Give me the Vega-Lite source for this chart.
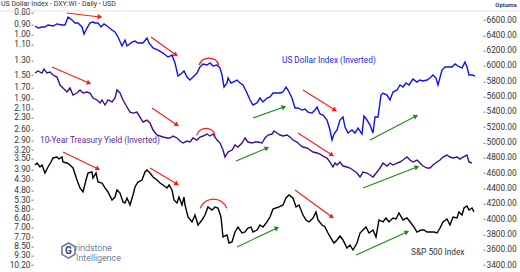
{
"$schema":"https://vega.github.io/schema/vega-lite/v6.json",
"width":450,"height":252.3,
"autosize":{"type":"none"},
"padding":{"left":33,"top":12.7,"right":37,"bottom":7},
"config":{"view":{"stroke":null},"font":"Roboto","axis":{"labelFont":"Roboto","labelFontSize":8.3,"labelColor":"#333","grid":false,"domain":false,"tickColor":"#777","tickSize":2,"labelPadding":1,"title":null,"labelOverlap":false,"labelBound":false}},
"datasets":{
"yieldlines":[
{"s":"usd","t":35,"v":0.915},{"s":"usd","t":38,"v":0.934},{"s":"usd","t":42,"v":0.924},{"s":"usd","t":45,"v":0.924},{"s":"usd","t":48,"v":0.906},{"s":"usd","t":53,"v":0.915},{"s":"usd","t":57,"v":0.896},{"s":"usd","t":62,"v":0.906},{"s":"usd","t":65,"v":0.906},{"s":"usd","t":68,"v":0.836},{"s":"usd","t":72,"v":0.861},{"s":"usd","t":75,"v":0.887},{"s":"usd","t":78,"v":0.887},{"s":"usd","t":82,"v":0.924},{"s":"usd","t":84,"v":0.992},{"s":"usd","t":87,"v":0.934},{"s":"usd","t":90,"v":0.887},{"s":"usd","t":93,"v":0.879},{"s":"usd","t":95,"v":0.887},{"s":"usd","t":98,"v":0.887},{"s":"usd","t":101,"v":0.924},{"s":"usd","t":104,"v":0.896},{"s":"usd","t":107,"v":0.915},{"s":"usd","t":112,"v":0.953},{"s":"usd","t":115,"v":0.972},{"s":"usd","t":118,"v":1.022},{"s":"usd","t":122,"v":1.119},{"s":"usd","t":125,"v":1.054},{"s":"usd","t":127,"v":1.119},{"s":"usd","t":132,"v":1.076},{"s":"usd","t":135,"v":1.065},{"s":"usd","t":138,"v":1.086},{"s":"usd","t":143,"v":1.086},{"s":"usd","t":147,"v":1.033},{"s":"usd","t":149,"v":1.086},{"s":"usd","t":153,"v":1.142},{"s":"usd","t":158,"v":1.166},{"s":"usd","t":163,"v":1.202},{"s":"usd","t":168,"v":1.251},{"s":"usd","t":172,"v":1.226},{"s":"usd","t":175,"v":1.329},{"s":"usd","t":178,"v":1.515},{"s":"usd","t":182,"v":1.470},{"s":"usd","t":184,"v":1.440},{"s":"usd","t":187,"v":1.531},{"s":"usd","t":190,"v":1.578},{"s":"usd","t":193,"v":1.531},{"s":"usd","t":197,"v":1.470},{"s":"usd","t":200,"v":1.384},{"s":"usd","t":203,"v":1.342},{"s":"usd","t":207,"v":1.356},{"s":"usd","t":210,"v":1.329},{"s":"usd","t":213,"v":1.370},{"s":"usd","t":217,"v":1.356},{"s":"usd","t":220,"v":1.398},{"s":"usd","t":222,"v":1.500},{"s":"usd","t":224,"v":1.693},{"s":"usd","t":227,"v":1.626},{"s":"usd","t":228,"v":1.546},{"s":"usd","t":231,"v":1.626},{"s":"usd","t":233,"v":1.610},{"s":"usd","t":237,"v":1.578},{"s":"usd","t":240,"v":1.626},{"s":"usd","t":243,"v":1.659},{"s":"usd","t":247,"v":1.799},{"s":"usd","t":250,"v":1.930},{"s":"usd","t":253,"v":2.030},{"s":"usd","t":257,"v":1.989},{"s":"usd","t":260,"v":1.892},{"s":"usd","t":263,"v":1.969},{"s":"usd","t":267,"v":1.892},{"s":"usd","t":270,"v":1.873},{"s":"usd","t":273,"v":1.799},{"s":"usd","t":277,"v":1.799},{"s":"usd","t":280,"v":1.799},{"s":"usd","t":283,"v":1.781},{"s":"usd","t":286,"v":1.693},{"s":"usd","t":288,"v":1.745},{"s":"usd","t":292,"v":1.892},{"s":"usd","t":295,"v":2.092},{"s":"usd","t":298,"v":2.092},{"s":"usd","t":302,"v":2.136},{"s":"usd","t":305,"v":2.114},{"s":"usd","t":308,"v":2.180},{"s":"usd","t":312,"v":2.202},{"s":"usd","t":315,"v":2.136},{"s":"usd","t":317,"v":2.071},{"s":"usd","t":320,"v":2.224},{"s":"usd","t":323,"v":2.246},{"s":"usd","t":327,"v":2.362},{"s":"usd","t":330,"v":2.613},{"s":"usd","t":332,"v":2.891},{"s":"usd","t":334,"v":2.721},{"s":"usd","t":337,"v":2.613},{"s":"usd","t":340,"v":2.362},{"s":"usd","t":343,"v":2.292},{"s":"usd","t":345,"v":2.536},{"s":"usd","t":348,"v":2.693},{"s":"usd","t":352,"v":2.613},{"s":"usd","t":355,"v":2.693},{"s":"usd","t":358,"v":2.561},{"s":"usd","t":362,"v":2.721},{"s":"usd","t":364,"v":2.269},{"s":"usd","t":367,"v":2.362},{"s":"usd","t":370,"v":2.485},{"s":"usd","t":373,"v":2.693},{"s":"usd","t":375,"v":2.292},{"s":"usd","t":378,"v":2.292},{"s":"usd","t":381,"v":1.836},{"s":"usd","t":383,"v":1.799},{"s":"usd","t":387,"v":1.836},{"s":"usd","t":390,"v":1.930},{"s":"usd","t":393,"v":1.781},{"s":"usd","t":397,"v":1.745},{"s":"usd","t":400,"v":1.659},{"s":"usd","t":403,"v":1.693},{"s":"usd","t":406,"v":1.626},{"s":"usd","t":409,"v":1.659},{"s":"usd","t":413,"v":1.562},{"s":"usd","t":417,"v":1.610},{"s":"usd","t":420,"v":1.578},{"s":"usd","t":423,"v":1.594},{"s":"usd","t":427,"v":1.578},{"s":"usd","t":430,"v":1.546},{"s":"usd","t":433,"v":1.500},{"s":"usd","t":436,"v":1.546},{"s":"usd","t":438,"v":1.659},{"s":"usd","t":442,"v":1.426},{"s":"usd","t":445,"v":1.384},{"s":"usd","t":448,"v":1.384},{"s":"usd","t":452,"v":1.384},{"s":"usd","t":455,"v":1.342},{"s":"usd","t":458,"v":1.370},{"s":"usd","t":462,"v":1.398},{"s":"usd","t":465,"v":1.315},{"s":"usd","t":467,"v":1.384},{"s":"usd","t":469,"v":1.500},{"s":"usd","t":472,"v":1.500},{"s":"usd","t":475,"v":1.515},
{"s":"ust10","t":35,"v":1.470},{"s":"ust10","t":38,"v":1.440},{"s":"ust10","t":42,"v":1.470},{"s":"ust10","t":44,"v":1.412},{"s":"ust10","t":47,"v":1.470},{"s":"ust10","t":50,"v":1.455},{"s":"ust10","t":53,"v":1.500},{"s":"ust10","t":57,"v":1.531},{"s":"ust10","t":60,"v":1.659},{"s":"ust10","t":63,"v":1.710},{"s":"ust10","t":67,"v":1.781},{"s":"ust10","t":70,"v":1.710},{"s":"ust10","t":73,"v":1.836},{"s":"ust10","t":77,"v":1.799},{"s":"ust10","t":80,"v":1.745},{"s":"ust10","t":83,"v":1.799},{"s":"ust10","t":87,"v":1.781},{"s":"ust10","t":90,"v":1.799},{"s":"ust10","t":93,"v":1.892},{"s":"ust10","t":97,"v":1.930},{"s":"ust10","t":100,"v":1.989},{"s":"ust10","t":102,"v":1.930},{"s":"ust10","t":105,"v":2.030},{"s":"ust10","t":108,"v":1.930},{"s":"ust10","t":112,"v":1.969},{"s":"ust10","t":115,"v":1.892},{"s":"ust10","t":117,"v":1.745},{"s":"ust10","t":120,"v":1.799},{"s":"ust10","t":123,"v":1.930},{"s":"ust10","t":127,"v":2.071},{"s":"ust10","t":130,"v":2.180},{"s":"ust10","t":133,"v":2.202},{"s":"ust10","t":137,"v":2.180},{"s":"ust10","t":140,"v":2.292},{"s":"ust10","t":143,"v":2.410},{"s":"ust10","t":147,"v":2.362},{"s":"ust10","t":150,"v":2.434},{"s":"ust10","t":153,"v":2.613},{"s":"ust10","t":157,"v":2.748},{"s":"ust10","t":160,"v":2.776},{"s":"ust10","t":163,"v":2.804},{"s":"ust10","t":167,"v":2.832},{"s":"ust10","t":170,"v":2.832},{"s":"ust10","t":173,"v":2.776},{"s":"ust10","t":177,"v":2.832},{"s":"ust10","t":180,"v":2.920},{"s":"ust10","t":183,"v":2.980},{"s":"ust10","t":187,"v":2.920},{"s":"ust10","t":190,"v":2.950},{"s":"ust10","t":193,"v":2.832},{"s":"ust10","t":197,"v":2.891},{"s":"ust10","t":200,"v":2.804},{"s":"ust10","t":203,"v":2.776},{"s":"ust10","t":207,"v":2.721},{"s":"ust10","t":210,"v":2.776},{"s":"ust10","t":213,"v":2.721},{"s":"ust10","t":217,"v":2.891},{"s":"ust10","t":220,"v":2.980},{"s":"ust10","t":223,"v":3.198},{"s":"ust10","t":225,"v":3.432},{"s":"ust10","t":228,"v":3.263},{"s":"ust10","t":232,"v":3.198},{"s":"ust10","t":235,"v":3.040},{"s":"ust10","t":238,"v":3.102},{"s":"ust10","t":242,"v":2.980},{"s":"ust10","t":245,"v":2.832},{"s":"ust10","t":248,"v":2.950},{"s":"ust10","t":252,"v":2.980},{"s":"ust10","t":255,"v":2.950},{"s":"ust10","t":258,"v":2.950},{"s":"ust10","t":262,"v":2.980},{"s":"ust10","t":265,"v":2.832},{"s":"ust10","t":268,"v":2.748},{"s":"ust10","t":272,"v":2.721},{"s":"ust10","t":274,"v":2.640},{"s":"ust10","t":277,"v":2.693},{"s":"ust10","t":280,"v":2.748},{"s":"ust10","t":283,"v":2.776},{"s":"ust10","t":287,"v":2.748},{"s":"ust10","t":290,"v":2.804},{"s":"ust10","t":293,"v":2.891},{"s":"ust10","t":297,"v":2.950},{"s":"ust10","t":300,"v":3.040},{"s":"ust10","t":303,"v":3.102},{"s":"ust10","t":307,"v":3.133},{"s":"ust10","t":310,"v":3.198},{"s":"ust10","t":313,"v":3.263},{"s":"ust10","t":317,"v":3.296},{"s":"ust10","t":320,"v":3.330},{"s":"ust10","t":323,"v":3.397},{"s":"ust10","t":327,"v":3.466},{"s":"ust10","t":330,"v":3.609},{"s":"ust10","t":333,"v":3.796},{"s":"ust10","t":335,"v":3.646},{"s":"ust10","t":337,"v":3.720},{"s":"ust10","t":340,"v":3.609},{"s":"ust10","t":343,"v":3.758},{"s":"ust10","t":347,"v":3.796},{"s":"ust10","t":350,"v":3.834},{"s":"ust10","t":353,"v":3.913},{"s":"ust10","t":357,"v":4.033},{"s":"ust10","t":360,"v":4.199},{"s":"ust10","t":363,"v":3.993},{"s":"ust10","t":367,"v":4.033},{"s":"ust10","t":370,"v":4.115},{"s":"ust10","t":373,"v":4.199},{"s":"ust10","t":377,"v":3.993},{"s":"ust10","t":380,"v":3.834},{"s":"ust10","t":383,"v":3.646},{"s":"ust10","t":387,"v":3.758},{"s":"ust10","t":390,"v":3.646},{"s":"ust10","t":393,"v":3.720},{"s":"ust10","t":397,"v":3.646},{"s":"ust10","t":400,"v":3.609},{"s":"ust10","t":403,"v":3.537},{"s":"ust10","t":407,"v":3.432},{"s":"ust10","t":410,"v":3.537},{"s":"ust10","t":413,"v":3.609},{"s":"ust10","t":417,"v":3.537},{"s":"ust10","t":420,"v":3.646},{"s":"ust10","t":423,"v":3.758},{"s":"ust10","t":427,"v":3.834},{"s":"ust10","t":430,"v":3.834},{"s":"ust10","t":433,"v":3.720},{"s":"ust10","t":437,"v":3.609},{"s":"ust10","t":440,"v":3.537},{"s":"ust10","t":443,"v":3.432},{"s":"ust10","t":447,"v":3.363},{"s":"ust10","t":450,"v":3.432},{"s":"ust10","t":453,"v":3.466},{"s":"ust10","t":457,"v":3.432},{"s":"ust10","t":460,"v":3.502},{"s":"ust10","t":463,"v":3.432},{"s":"ust10","t":467,"v":3.363},{"s":"ust10","t":469,"v":3.609},{"s":"ust10","t":472,"v":3.646}
],
"spx":[
{"t":35,"v":4706},{"t":37,"v":4732},{"t":40,"v":4680},{"t":42,"v":4706},{"t":45,"v":4602},{"t":48,"v":4680},{"t":51,"v":4745},{"t":53,"v":4798},{"t":57,"v":4811},{"t":59,"v":4785},{"t":62,"v":4811},{"t":63,"v":4745},{"t":67,"v":4732},{"t":70,"v":4706},{"t":73,"v":4667},{"t":77,"v":4510},{"t":80,"v":4406},{"t":83,"v":4354},{"t":86,"v":4510},{"t":88,"v":4602},{"t":92,"v":4615},{"t":93,"v":4536},{"t":96,"v":4602},{"t":98,"v":4484},{"t":102,"v":4471},{"t":105,"v":4406},{"t":108,"v":4354},{"t":112,"v":4249},{"t":115,"v":4288},{"t":117,"v":4380},{"t":120,"v":4340},{"t":123,"v":4223},{"t":125,"v":4210},{"t":127,"v":4275},{"t":130,"v":4184},{"t":133,"v":4314},{"t":135,"v":4419},{"t":138,"v":4484},{"t":142,"v":4510},{"t":145,"v":4615},{"t":147,"v":4641},{"t":150,"v":4602},{"t":153,"v":4549},{"t":157,"v":4510},{"t":160,"v":4471},{"t":163,"v":4445},{"t":167,"v":4406},{"t":169,"v":4445},{"t":172,"v":4380},{"t":174,"v":4249},{"t":177,"v":4210},{"t":179,"v":4288},{"t":182,"v":4184},{"t":184,"v":4288},{"t":185,"v":4184},{"t":188,"v":4027},{"t":192,"v":3962},{"t":195,"v":4053},{"t":198,"v":3922},{"t":202,"v":3988},{"t":205,"v":4053},{"t":208,"v":4158},{"t":212,"v":4118},{"t":215,"v":4158},{"t":218,"v":4145},{"t":221,"v":4027},{"t":223,"v":3766},{"t":227,"v":3792},{"t":229,"v":3687},{"t":232,"v":3700},{"t":235,"v":3831},{"t":238,"v":3896},{"t":242,"v":3818},{"t":245,"v":3831},{"t":248,"v":3883},{"t":251,"v":3896},{"t":253,"v":3831},{"t":257,"v":3857},{"t":260,"v":3922},{"t":263,"v":3896},{"t":267,"v":3962},{"t":270,"v":4027},{"t":273,"v":4131},{"t":276,"v":4145},{"t":279,"v":4158},{"t":283,"v":4184},{"t":286,"v":4275},{"t":289,"v":4314},{"t":293,"v":4275},{"t":296,"v":4158},{"t":299,"v":4184},{"t":303,"v":4053},{"t":306,"v":3988},{"t":309,"v":3962},{"t":313,"v":4014},{"t":316,"v":4092},{"t":318,"v":3988},{"t":322,"v":3922},{"t":325,"v":3896},{"t":328,"v":3818},{"t":332,"v":3727},{"t":334,"v":3687},{"t":337,"v":3727},{"t":340,"v":3779},{"t":343,"v":3727},{"t":347,"v":3622},{"t":350,"v":3661},{"t":353,"v":3596},{"t":357,"v":3687},{"t":360,"v":3818},{"t":363,"v":3857},{"t":366,"v":3896},{"t":369,"v":3818},{"t":373,"v":3857},{"t":376,"v":3766},{"t":379,"v":3988},{"t":383,"v":3962},{"t":386,"v":4014},{"t":389,"v":3962},{"t":393,"v":4014},{"t":396,"v":4001},{"t":399,"v":4079},{"t":403,"v":3988},{"t":407,"v":4014},{"t":411,"v":3949},{"t":414,"v":3896},{"t":417,"v":3831},{"t":421,"v":3857},{"t":424,"v":3857},{"t":427,"v":3831},{"t":431,"v":3831},{"t":434,"v":3831},{"t":437,"v":3818},{"t":440,"v":3883},{"t":443,"v":3962},{"t":447,"v":4001},{"t":450,"v":3922},{"t":453,"v":4027},{"t":457,"v":4014},{"t":459,"v":4092},{"t":462,"v":4053},{"t":464,"v":4145},{"t":467,"v":4171},{"t":469,"v":4118},{"t":472,"v":4145},{"t":474,"v":4092}
],
"arrows":[
{"x1":67,"y1":6692,"x2":100,"y2":6639,"kind":"down"},
{"x1":151,"y1":6378,"x2":176,"y2":6143,"kind":"down"},
{"x1":52,"y1":5986,"x2":89,"y2":5777,"kind":"down"},
{"x1":152,"y1":5451,"x2":177,"y2":5229,"kind":"down"},
{"x1":63,"y1":4876,"x2":98,"y2":4654,"kind":"down"},
{"x1":150,"y1":4667,"x2":177,"y2":4458,"kind":"down"},
{"x1":303,"y1":5686,"x2":335,"y2":5425,"kind":"down"},
{"x1":298,"y1":5124,"x2":332,"y2":4837,"kind":"down"},
{"x1":295,"y1":4380,"x2":332,"y2":4027,"kind":"down"},
{"x1":253,"y1":5320,"x2":284,"y2":5464,"kind":"up"},
{"x1":370,"y1":5033,"x2":416,"y2":5346,"kind":"up"},
{"x1":236,"y1":4758,"x2":267,"y2":4928,"kind":"up"},
{"x1":363,"y1":4406,"x2":417,"y2":4680,"kind":"up"},
{"x1":237,"y1":3635,"x2":277,"y2":3883,"kind":"up"},
{"x1":356,"y1":3531,"x2":407,"y2":3831,"kind":"up"}
],
"arcs":[
{"id":"usd","t":209,"v":5965},
{"id":"ust10","t":206,"v":5059},
{"id":"spx","t":213.5,"v":4075}
]
},
"layer":[
{"data":{"values":[{"a":0,"b":520}]},
 "mark":{"type":"rule","color":"#e2e2e2","strokeWidth":1},
 "encoding":{
  "x":{"field":"a","type":"quantitative","scale":{"domain":[33,483],"nice":false,"zero":false},"axis":null},
  "x2":{"field":"b"},
  "y":{"datum":6718,"type":"quantitative","scale":{"domain":[3400,6695.5],"nice":false,"zero":false},"axis":null}
 }},
{"data":{"name":"yieldlines"},
 "mark":{"type":"line","strokeWidth":1.4},
 "encoding":{
  "x":{"field":"t","type":"quantitative","axis":null},
  "y":{"field":"v","type":"quantitative","scale":{"type":"log","domain":[0.8,10.2],"reverse":true,"nice":false},
       "axis":{"orient":"left","values":[0.8,0.9,1.0,1.1,1.3,1.5,1.7,1.9,2.1,2.3,2.6,2.9,3.2,3.5,3.9,4.3,4.8,5.3,5.8,6.4,7.0,7.7,8.5,9.3,10.2],"format":".2f"}},
  "color":{"field":"s","type":"nominal","scale":{"domain":["usd","ust10"],"range":["#1010f0","#3d0f8a"]},"legend":null}
 }},
{"data":{"name":"spx"},
 "mark":{"type":"line","color":"#000000","strokeWidth":1.4},
 "encoding":{
  "x":{"field":"t","type":"quantitative","axis":null},
  "y":{"field":"v","type":"quantitative","scale":{"domain":[3400,6695.5],"nice":false,"zero":false},
       "axis":{"orient":"right","values":[3400,3600,3800,4000,4200,4400,4600,4800,5000,5200,5400,5600,5800,6000,6200,6400,6600],"format":".2f"}}
 }},
{"data":{"name":"arrows"},
 "mark":{"type":"rule","strokeWidth":1.1},
 "encoding":{
  "x":{"field":"x1","type":"quantitative","axis":null},"x2":{"field":"x2"},
  "y":{"field":"y1","type":"quantitative","scale":{"domain":[3400,6695.5],"nice":false,"zero":false},"axis":null},"y2":{"field":"y2"},
  "color":{"field":"kind","type":"nominal","scale":{"domain":["down","up"],"range":["#ff1a1a","#1a8a1a"]},"legend":null}
 }},
{"data":{"name":"arrows"},
 "transform":[{"calculate":"atan2((datum.y1-datum.y2)*0.07656, datum.x2-datum.x1)*180/PI","as":"ang"}],
 "mark":{"type":"point","shape":"triangle-right","filled":true,"size":28,"opacity":1},
 "encoding":{
  "x":{"field":"x2","type":"quantitative","axis":null},
  "y":{"field":"y2","type":"quantitative","scale":{"domain":[3400,6695.5],"nice":false,"zero":false},"axis":null},
  "angle":{"field":"ang","type":"quantitative","scale":null},
  "color":{"field":"kind","type":"nominal","scale":{"domain":["down","up"],"range":["#ff1a1a","#1a8a1a"]},"legend":null}
 }},
{"data":{"name":"arcs"},"transform":[{"filter":"datum.id=='usd'"}],
 "mark":{"type":"arc","theta":-1.22,"theta2":1.22,"outerRadius":11.2,"innerRadius":9.9,"fill":"#ff1a1a"},
 "encoding":{"x":{"field":"t","type":"quantitative","axis":null},"y":{"field":"v","type":"quantitative","scale":{"domain":[3400,6695.5],"nice":false,"zero":false},"axis":null}}},
{"data":{"name":"arcs"},"transform":[{"filter":"datum.id=='ust10'"}],
 "mark":{"type":"arc","theta":-1.3,"theta2":1.3,"outerRadius":10.3,"innerRadius":9,"fill":"#ff1a1a"},
 "encoding":{"x":{"field":"t","type":"quantitative","axis":null},"y":{"field":"v","type":"quantitative","scale":{"domain":[3400,6695.5],"nice":false,"zero":false},"axis":null}}},
{"data":{"name":"arcs"},"transform":[{"filter":"datum.id=='spx'"}],
 "mark":{"type":"arc","theta":-1.2,"theta2":1.2,"outerRadius":14.9,"innerRadius":13.6,"fill":"#ff1a1a"},
 "encoding":{"x":{"field":"t","type":"quantitative","axis":null},"y":{"field":"v","type":"quantitative","scale":{"domain":[3400,6695.5],"nice":false,"zero":false},"axis":null}}},
{"data":{"values":[{"t":1,"v":6809,"label":"US Dollar Index - DXY:WI - Daily - USD"}]},
 "mark":{"type":"text","align":"left","baseline":"middle","fontSize":7,"color":"#333333","font":"Roboto"},
 "encoding":{"x":{"field":"t","type":"quantitative","axis":null},"y":{"field":"v","type":"quantitative","scale":{"domain":[3400,6695.5],"nice":false,"zero":false},"axis":null},"text":{"field":"label"}}},
{"data":{"values":[{"t":282,"v":6065,"label":"US Dollar Index (Inverted)"}]},
 "mark":{"type":"text","align":"left","baseline":"middle","fontSize":8.3,"color":"#2525e8","font":"Roboto"},
 "encoding":{"x":{"field":"t","type":"quantitative","axis":null},"y":{"field":"v","type":"quantitative","scale":{"domain":[3400,6695.5],"nice":false,"zero":false},"axis":null},"text":{"field":"label"}}},
{"data":{"values":[{"t":40,"v":5024,"label":"10-Year Treasury Yield (Inverted)"}]},
 "mark":{"type":"text","align":"left","baseline":"middle","fontSize":8.3,"color":"#5a2a98","font":"Roboto"},
 "encoding":{"x":{"field":"t","type":"quantitative","axis":null},"y":{"field":"v","type":"quantitative","scale":{"domain":[3400,6695.5],"nice":false,"zero":false},"axis":null},"text":{"field":"label"}}},
{"data":{"values":[{"t":411,"v":3561,"label":"S&P 500 Index"}]},
 "mark":{"type":"text","align":"left","baseline":"middle","fontSize":8.3,"color":"#333333","font":"Roboto"},
 "encoding":{"x":{"field":"t","type":"quantitative","axis":null},"y":{"field":"v","type":"quantitative","scale":{"domain":[3400,6695.5],"nice":false,"zero":false},"axis":null},"text":{"field":"label"}}},
{"data":{"values":[{"t":68.5,"v":3589}]},
 "mark":{"type":"point","shape":"M0,-1L0.866,-0.5L0.866,0.5L0,1L-0.866,0.5L-0.866,-0.5Z","size":230,"filled":false,"stroke":"#2b4470","strokeWidth":1.6},
 "encoding":{"x":{"field":"t","type":"quantitative","axis":null},"y":{"field":"v","type":"quantitative","scale":{"domain":[3400,6695.5],"nice":false,"zero":false},"axis":null}}},
{"data":{"values":[{"t":68.5,"v":3589,"label":"G"}]},
 "mark":{"type":"text","align":"center","baseline":"middle","fontSize":10,"fontWeight":"bold","color":"#2b4470","font":"Roboto"},
 "encoding":{"x":{"field":"t","type":"quantitative","axis":null},"y":{"field":"v","type":"quantitative","scale":{"domain":[3400,6695.5],"nice":false,"zero":false},"axis":null},"text":{"field":"label"}}},
{"data":{"values":[{"t":75,"v":3622,"label":"rindstone"},{"t":76,"v":3491,"label":"Intelligence"}]},
 "mark":{"type":"text","align":"left","baseline":"middle","fontSize":9,"color":"#2b4470","font":"Roboto","fontWeight":300},
 "encoding":{"x":{"field":"t","type":"quantitative","axis":null},"y":{"field":"v","type":"quantitative","scale":{"domain":[3400,6695.5],"nice":false,"zero":false},"axis":null},"text":{"field":"label"}}},
{"data":{"values":[{"t":506,"v":6800,"label":"Optuma"}]},
 "mark":{"type":"text","align":"center","baseline":"middle","fontSize":6,"fontWeight":"bold","color":"#1f3f7a","font":"Roboto"},
 "encoding":{"x":{"field":"t","type":"quantitative","axis":null},"y":{"field":"v","type":"quantitative","scale":{"domain":[3400,6695.5],"nice":false,"zero":false},"axis":null},"text":{"field":"label"}}}
],
"resolve":{"scale":{"y":"independent","color":"independent"}}
}
